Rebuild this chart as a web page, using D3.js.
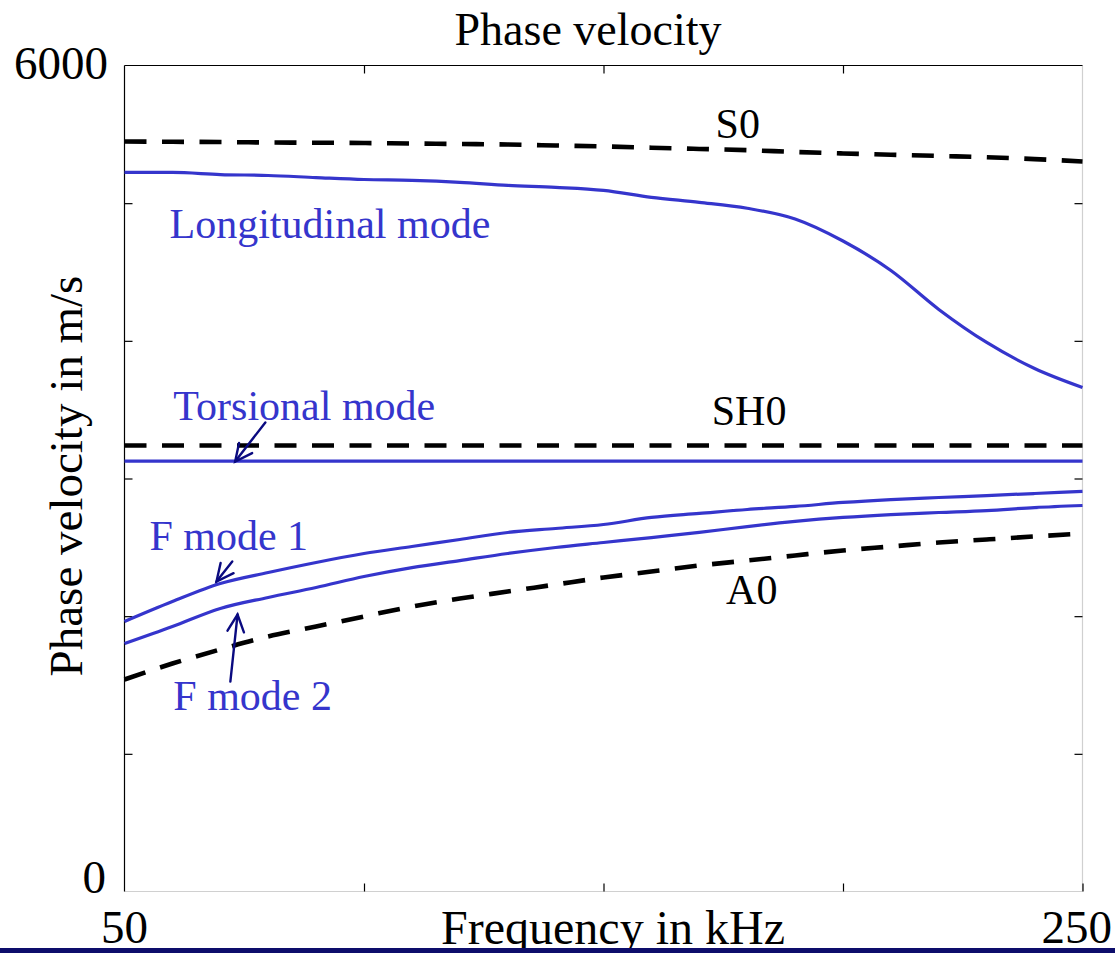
<!DOCTYPE html>
<html>
<head>
<meta charset="utf-8">
<script src="https://cdn.jsdelivr.net/npm/d3@7"></script>
<style>
  html, body { margin: 0; padding: 0; background: #fff; }
  svg { display: block; }
</style>
</head>
<body>
<svg id="chart" width="1115" height="953"></svg>
<script>
// ---------- data ----------
const freq = [50, 60, 70, 80, 90, 100, 110, 120, 130, 140, 150, 160, 170, 180, 190, 200, 210, 220, 230, 240, 250];
const s0 = [5448, 5446, 5444, 5441, 5439, 5437, 5433, 5430, 5426, 5419, 5412, 5403, 5394, 5385, 5372, 5361, 5352, 5343, 5334, 5320, 5303];
const longitudinal = [5223, 5223, 5208, 5201, 5186, 5172, 5165, 5151, 5129, 5115, 5093, 5042, 5006, 4963, 4885, 4725, 4511, 4228, 3988, 3799, 3661];
const sh0 = [3240, 3240, 3240, 3240, 3240, 3240, 3240, 3240, 3240, 3240, 3240, 3240, 3240, 3240, 3240, 3240, 3240, 3240, 3240, 3240, 3240];
const torsional = [3126, 3126, 3126, 3126, 3126, 3126, 3126, 3126, 3126, 3126, 3126, 3126, 3126, 3126, 3126, 3126, 3126, 3126, 3126, 3126, 3126];
const fMode1 = [1961, 2106, 2237, 2317, 2390, 2455, 2506, 2557, 2608, 2637, 2666, 2717, 2746, 2775, 2797, 2826, 2847, 2862, 2876, 2891, 2906];
const fMode2 = [1801, 1925, 2056, 2136, 2208, 2288, 2353, 2404, 2455, 2499, 2535, 2571, 2608, 2651, 2688, 2717, 2738, 2753, 2767, 2789, 2804];
const a0 = [1540, 1656, 1758, 1852, 1925, 1998, 2070, 2128, 2179, 2230, 2281, 2324, 2368, 2404, 2441, 2477, 2506, 2535, 2557, 2579, 2600];

const xTickValues = [50, 100, 150, 200, 250];
const yTickValues = [0, 1000, 2000, 3000, 4000, 5000, 6000];
const xTickLabels = ["50", "250"];
const yTickLabels = ["0", "6000"];

// label positions in data units [freq, velocity(baseline)]
const labelNames = ["S0", "SH0", "A0", "Longitudinal mode", "Torsional mode", "F mode 1", "F mode 2"];
const labelFreq = [173.4, 172.6, 175.6, 59.4, 60.2, 55.2, 60.2];
const labelVel = [5476, 3392, 2092, 4750, 3428, 2477, 1322];
// annotation arrows [freq, velocity]
const arrowTail = [[79.4, 3407], [72.5, 2397], [72.1, 1525]];
const arrowTip = [[73.1, 3123], [69.2, 2252], [73.6, 2012]];

// ---------- layout ----------
const FONT = "'Liberation Serif', 'Times New Roman', Times, 'DejaVu Serif', serif";
const svg = d3.select("#chart");
const L = 124.5, R = 1082.5, T = 65.5, B = 891.5;
const x = d3.scaleLinear().domain([50, 250]).range([L, R]);
const y = d3.scaleLinear().domain([0, 6000]).range([B, T]);
const BLUE = "#3535cc";
const NAVY = "#0a0a80";

// frame: right and bottom gray, top and left black
svg.append("line").attr("x1", L).attr("x2", R).attr("y1", B).attr("y2", B).attr("stroke", "#d0d0d0").attr("stroke-width", 1.2);
svg.append("line").attr("x1", R).attr("x2", R).attr("y1", T).attr("y2", B).attr("stroke", "#d0d0d0").attr("stroke-width", 1.2);

// ticks via axes (inward ticks, no labels)
const tickLen = 8;
const gTop = svg.append("g").attr("transform", `translate(0,${T})`)
  .call(d3.axisBottom(x).tickValues(xTickValues.slice(1, 4)).tickSize(tickLen).tickFormat(""));
const gBot = svg.append("g").attr("transform", `translate(0,${B})`)
  .call(d3.axisTop(x).tickValues(xTickValues.slice(1)).tickSize(tickLen).tickFormat(""));
const gLeft = svg.append("g").attr("transform", `translate(${L},0)`)
  .call(d3.axisRight(y).tickValues(yTickValues.slice(1, 6)).tickSize(tickLen).tickFormat(""));
const gRight = svg.append("g").attr("transform", `translate(${R},0)`)
  .call(d3.axisLeft(y).tickValues(yTickValues.slice(1, 6)).tickSize(tickLen).tickFormat(""));
[gTop, gBot, gLeft, gRight].forEach(g => {
  g.select(".domain").remove();
  g.selectAll(".tick line").attr("stroke", "#000").attr("stroke-width", 1.2);
});
svg.append("line").attr("x1", L).attr("x2", R).attr("y1", T).attr("y2", T).attr("stroke", "#000").attr("stroke-width", 1.2);
svg.append("line").attr("x1", L).attr("x2", L).attr("y1", T).attr("y2", B).attr("stroke", "#000").attr("stroke-width", 1.2);

// ---------- lines ----------
const line = d3.line().x((d, i) => x(freq[i])).y(d => y(d)).curve(d3.curveMonotoneX);
const dashedSeries = [s0, sh0, a0];
const solidSeries = [longitudinal, torsional, fMode1, fMode2];

svg.append("g").selectAll("path").data(solidSeries).join("path")
  .attr("d", line).attr("fill", "none").attr("stroke", BLUE).attr("stroke-width", 3.2)
  .attr("stroke-linejoin", "round");
svg.append("g").selectAll("path").data(dashedSeries).join("path")
  .attr("d", line).attr("fill", "none").attr("stroke", "#000").attr("stroke-width", 4.6)
  .attr("stroke-dasharray", "22,15.5");

// ---------- labels ----------
const labelSize = 42;
svg.append("g").selectAll("text").data(labelNames).join("text")
  .attr("x", (d, i) => x(labelFreq[i]))
  .attr("y", (d, i) => y(labelVel[i]))
  .attr("font-family", FONT)
  .attr("font-size", labelSize)
  .attr("fill", (d, i) => i < 3 ? "#000" : BLUE)
  .text(d => d);

// arrows
const arrows = svg.append("g").attr("stroke", NAVY).attr("stroke-width", 2.4).attr("fill", "none").attr("stroke-linecap", "round");
arrowTail.forEach((t, i) => {
  const x1 = x(t[0]), y1 = y(t[1]), x2 = x(arrowTip[i][0]), y2 = y(arrowTip[i][1]);
  arrows.append("line").attr("x1", x1).attr("y1", y1).attr("x2", x2).attr("y2", y2);
  const ang = Math.atan2(y2 - y1, x2 - x1);
  const hl = 19, ha = 0.45;
  const pts = [
    [x2 - hl * Math.cos(ang - ha), y2 - hl * Math.sin(ang - ha)],
    [x2, y2],
    [x2 - hl * Math.cos(ang + ha), y2 - hl * Math.sin(ang + ha)]
  ];
  arrows.append("path").attr("d", d3.line()(pts));
});

// ---------- tick labels ----------
const tickSize = 47;
const addText = (xx, yy, anchor, size, str) =>
  svg.append("text").attr("x", xx).attr("y", yy).attr("text-anchor", anchor)
    .attr("font-family", FONT).attr("font-size", size).attr("fill", "#000").text(str);
addText(108, y(6000) + 13, "end", tickSize, yTickLabels[1]);
addText(106, y(0) + 1, "end", tickSize, yTickLabels[0]);
addText(x(50), 943, "middle", tickSize, xTickLabels[0]);
addText(1112, 943, "end", tickSize, xTickLabels[1]);

// titles
addText(588, 45, "middle", 46, "Phase velocity");
addText(613, 944, "middle", 48, "Frequency in kHz");
svg.append("text").attr("transform", `translate(82,476) rotate(-90)`).attr("text-anchor", "middle")
  .attr("font-family", FONT).attr("font-size", 47).text("Phase velocity in m/s");

// bottom navy bar (drawn last: overlaps the x-axis title as in the reference)
svg.append("rect").attr("x", 0).attr("y", 948).attr("width", 1115).attr("height", 5).attr("fill", "#0d0d6b");
</script>
</body>
</html>
